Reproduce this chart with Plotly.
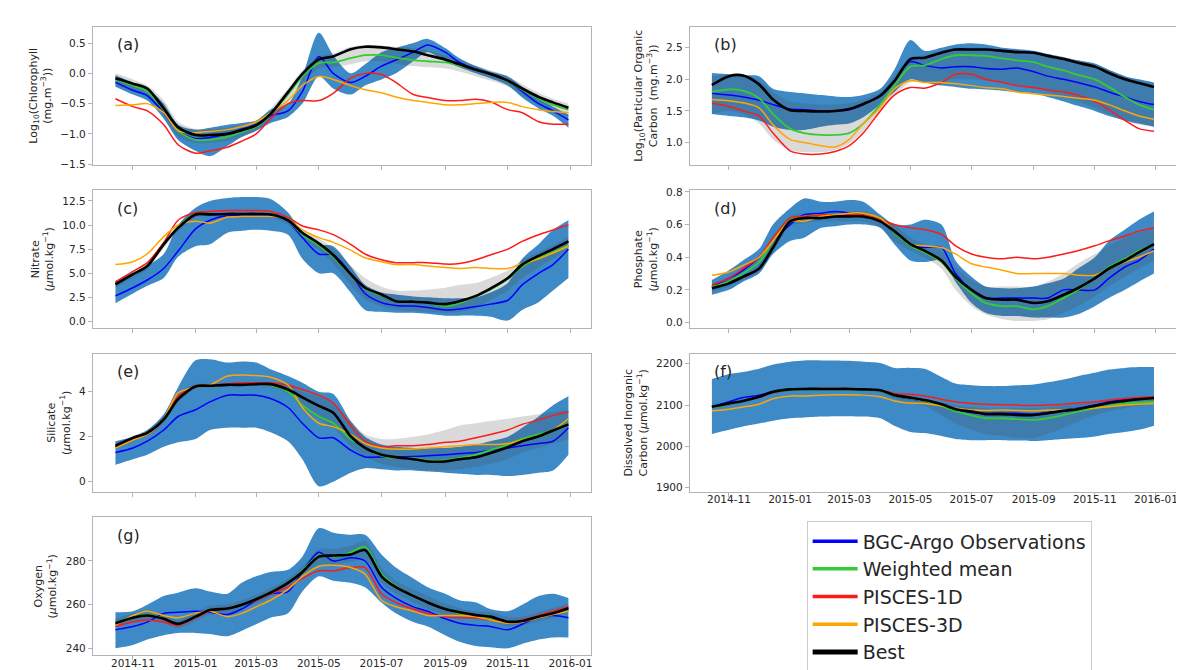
import plotly.graph_objects as go

# ---------------- data ----------------
dates = ["2014-10-15", "2014-11-01", "2014-11-15", "2014-12-01", "2014-12-15",
         "2015-01-01", "2015-01-15", "2015-02-01", "2015-02-15", "2015-03-01",
         "2015-03-15", "2015-04-01", "2015-04-15", "2015-05-01", "2015-05-15",
         "2015-06-01", "2015-06-15", "2015-07-01", "2015-07-15", "2015-08-01",
         "2015-08-15", "2015-09-01", "2015-09-15", "2015-10-01", "2015-10-15",
         "2015-11-01", "2015-11-15", "2015-12-01", "2015-12-15", "2015-12-30"]

tick_dates = ["2014-11-01", "2015-01-01", "2015-03-01", "2015-05-01",
              "2015-07-01", "2015-09-01", "2015-11-01", "2016-01-01"]
tick_labels = ["2014-11", "2015-01", "2015-03", "2015-05",
               "2015-07", "2015-09", "2015-11", "2016-01"]

series_names = ["BGC-Argo Observations", "Weighted mean", "PISCES-1D", "PISCES-3D", "Best"]

# (a) chlorophyll
chl_obs = [-0.15, -0.28, -0.37, -0.65, -0.95, -1.08, -1.06, -1.0, -0.92, -0.85, -0.7, -0.62, -0.3, 0.28, 0.0,
           -0.15, -0.05, 0.12, 0.22, 0.35, 0.47, 0.35, 0.18, 0.07, 0.0, -0.12, -0.3, -0.5, -0.62, -0.77]
chl_wmean = [-0.1, -0.2, -0.3, -0.6, -0.95, -1.1, -1.1, -1.05, -0.97, -0.88, -0.68, -0.35, -0.05, 0.17, 0.18,
             0.25, 0.3, 0.3, 0.26, 0.22, 0.2, 0.18, 0.13, 0.06, -0.01, -0.13, -0.27, -0.42, -0.52, -0.6]
chl_1d = [-0.42, -0.55, -0.62, -0.85, -1.18, -1.32, -1.28, -1.22, -1.12, -1.0, -0.75, -0.5, -0.45, -0.45, -0.33,
          -0.08, 0.0, -0.02, -0.15, -0.35, -0.4, -0.45, -0.45, -0.43, -0.47, -0.6, -0.65, -0.8, -0.84, -0.84]
chl_3d = [-0.53, -0.52, -0.5, -0.65, -0.95, -0.98, -0.96, -0.93, -0.88, -0.8, -0.65, -0.45, -0.2, -0.05, -0.1,
          -0.2, -0.27, -0.32, -0.39, -0.45, -0.48, -0.52, -0.52, -0.5, -0.48, -0.48, -0.55, -0.6, -0.63, -0.65]
chl_best = [-0.08, -0.17, -0.25, -0.58, -0.89, -1.02, -1.02, -1.0, -0.94, -0.86, -0.67, -0.31, -0.01, 0.23, 0.28,
            0.4, 0.44, 0.43, 0.4, 0.36, 0.3, 0.23, 0.15, 0.06, -0.01, -0.12, -0.25, -0.39, -0.48, -0.57]
chl_band_hi = [-0.03, -0.15, -0.25, -0.5, -0.85, -0.93, -0.9, -0.85, -0.82, -0.78, -0.6, -0.5, -0.05, 0.67, 0.3,
               0.0, 0.15, 0.35, 0.42, 0.5, 0.57, 0.42, 0.25, 0.12, 0.03, -0.05, -0.22, -0.42, -0.55, -0.68]
chl_band_lo = [-0.22, -0.35, -0.45, -0.75, -1.1, -1.28, -1.37, -1.2, -1.05, -0.95, -0.82, -0.72, -0.5, -0.05, -0.25,
               -0.35, -0.2, -0.1, 0.0, 0.2, 0.35, 0.2, 0.1, 0.0, -0.08, -0.2, -0.4, -0.58, -0.7, -0.9]
chl_ens_hi = [0.0, -0.1, -0.2, -0.45, -0.8, -0.92, -0.92, -0.9, -0.85, -0.78, -0.58, -0.25, 0.05, 0.28, 0.33,
              0.44, 0.47, 0.46, 0.44, 0.42, 0.38, 0.3, 0.22, 0.12, 0.05, -0.05, -0.18, -0.32, -0.42, -0.5]
chl_ens_lo = [-0.2, -0.3, -0.38, -0.7, -1.05, -1.15, -1.15, -1.12, -1.05, -0.95, -0.78, -0.45, -0.15, 0.08, 0.1,
              0.15, 0.2, 0.2, 0.16, 0.12, 0.1, 0.08, 0.03, -0.05, -0.12, -0.22, -0.36, -0.5, -0.6, -0.72]

# (b) particulate organic carbon
poc_obs = [1.78, 1.75, 1.72, 1.67, 1.6, 1.53, 1.52, 1.5, 1.5, 1.52, 1.6, 1.75, 1.98, 2.28, 2.22,
           2.18, 2.2, 2.2, 2.17, 2.16, 2.18, 2.12, 2.05, 2.0, 1.95, 1.88, 1.8, 1.72, 1.65, 1.6]
poc_wmean = [1.8, 1.84, 1.82, 1.7, 1.45, 1.22, 1.15, 1.12, 1.12, 1.15, 1.3, 1.6, 1.9, 2.2, 2.22,
             2.32, 2.38, 2.38, 2.37, 2.33, 2.3, 2.27, 2.2, 2.14, 2.07, 2.0, 1.88, 1.72, 1.6, 1.52]
poc_1d = [1.62, 1.57, 1.5, 1.42, 1.15, 0.87, 0.82, 0.82, 0.86, 0.95, 1.15, 1.5, 1.75, 1.87, 1.86,
          1.95, 2.08, 2.08, 2.0, 1.95, 1.9, 1.87, 1.83, 1.8, 1.75, 1.65, 1.52, 1.35, 1.22, 1.18]
poc_3d = [1.68, 1.66, 1.63, 1.55, 1.28, 1.05, 1.0, 0.95, 0.93, 1.05, 1.3, 1.55, 1.85, 1.98, 1.95,
          1.95, 1.93, 1.9, 1.87, 1.85, 1.8, 1.77, 1.75, 1.73, 1.7, 1.67, 1.6, 1.5, 1.42, 1.37]
poc_best = [1.91, 2.05, 2.06, 1.92, 1.68, 1.51, 1.5, 1.49, 1.5, 1.53, 1.61, 1.74, 1.97, 2.32, 2.34,
            2.42, 2.47, 2.47, 2.47, 2.45, 2.43, 2.42, 2.37, 2.32, 2.26, 2.2, 2.1, 2.0, 1.94, 1.88]
poc_band_hi = [2.1, 2.08, 2.06, 2.05, 1.85, 1.8, 1.78, 1.75, 1.73, 1.72, 1.75, 1.85, 2.15, 2.62, 2.45,
               2.5, 2.55, 2.57, 2.55, 2.5, 2.48, 2.45, 2.4, 2.35, 2.3, 2.25, 2.15, 2.05, 2.0, 1.95]
poc_band_lo = [1.45, 1.42, 1.4, 1.35, 1.25, 1.2, 1.2, 1.25, 1.28, 1.3, 1.4, 1.6, 1.8, 2.0, 1.95,
               1.9, 1.88, 1.85, 1.84, 1.82, 1.8, 1.78, 1.72, 1.65, 1.58, 1.5, 1.42, 1.35, 1.3, 1.25]
poc_ens_hi = [2.05, 2.08, 2.08, 1.98, 1.8, 1.65, 1.62, 1.6, 1.6, 1.62, 1.68, 1.8, 2.05, 2.35, 2.38,
              2.45, 2.5, 2.5, 2.5, 2.48, 2.46, 2.44, 2.4, 2.35, 2.3, 2.24, 2.15, 2.05, 1.98, 1.92]
poc_ens_lo = [1.45, 1.5, 1.45, 1.3, 1.05, 0.88, 0.85, 0.85, 0.88, 0.98, 1.18, 1.5, 1.75, 1.95, 1.95,
              1.98, 2.0, 2.0, 1.98, 1.95, 1.9, 1.85, 1.8, 1.72, 1.65, 1.55, 1.45, 1.35, 1.28, 1.25]

# (c) nitrate
no3_obs = [2.65, 3.5, 4.3, 5.5, 7.3, 9.6, 10.5, 11.0, 11.0, 11.0, 11.0, 10.4, 8.7, 7.0, 6.9,
           5.0, 2.9, 1.95, 1.65, 1.6, 1.45, 1.2, 1.3, 1.55, 1.8, 2.2, 3.8, 5.0, 5.9, 7.5]
no3_wmean = [3.9, 4.9, 5.8, 8.0, 9.8, 11.1, 11.1, 11.15, 11.15, 11.15, 11.1, 10.5, 9.0, 7.9, 6.7,
             4.8, 3.4, 2.7, 2.1, 2.05, 1.9, 1.6, 1.9, 2.6, 3.3, 4.4, 5.7, 6.6, 7.2, 7.9]
no3_1d = [4.1, 5.2, 6.1, 8.2, 10.5, 11.3, 11.4, 11.5, 11.5, 11.5, 11.4, 10.8, 9.9, 9.5, 9.0,
          8.0, 7.0, 6.4, 6.1, 6.1, 6.1, 5.95, 6.0, 6.4, 6.9, 7.5, 8.3, 9.0, 9.5, 10.0]
no3_3d = [5.9, 6.2, 7.0, 8.8, 10.0, 10.4, 10.2, 10.8, 10.9, 10.9, 10.9, 10.6, 9.5, 8.7, 8.2,
          7.4, 6.6, 6.2, 5.9, 5.9, 5.75, 5.6, 5.5, 5.6, 5.5, 5.5, 6.0, 6.5, 7.1, 7.8]
no3_best = [3.85, 4.9, 5.75, 8.0, 9.7, 11.1, 11.1, 11.15, 11.15, 11.15, 11.1, 10.5, 9.2, 8.1, 6.9,
            4.9, 3.5, 2.8, 2.1, 2.05, 1.95, 1.8, 2.1, 2.65, 3.4, 4.5, 5.9, 6.8, 7.5, 8.3]
no3_band_hi = [4.2, 5.0, 5.8, 7.0, 10.0, 11.8, 12.5, 12.8, 12.9, 12.9, 12.7, 11.3, 9.2, 8.0, 7.8,
               5.7, 3.8, 3.0, 2.8, 2.6, 2.5, 2.4, 2.4, 2.5, 3.0, 4.0, 6.5, 8.0, 9.5, 10.5]
no3_band_lo = [1.9, 2.9, 3.7, 4.5, 6.7, 7.8, 8.0, 9.2, 9.4, 9.5, 9.4, 9.0, 6.5, 5.0, 5.0,
               3.0, 1.2, 1.0, 0.9, 0.9, 0.8, 0.6, 0.6, 0.6, 0.5, 0.1, 1.2, 2.0, 3.2, 4.5]
no3_ens_hi = [4.2, 5.2, 6.1, 8.3, 10.1, 11.3, 11.3, 11.3, 11.3, 11.3, 11.3, 10.8, 9.6, 8.6, 7.6,
              5.8, 4.5, 3.6, 3.2, 3.2, 3.3, 3.5, 3.8, 4.0, 4.5, 5.3, 6.4, 7.2, 7.9, 8.8]
no3_ens_lo = [3.5, 4.5, 5.4, 7.6, 9.3, 10.8, 10.9, 10.9, 10.9, 10.9, 10.8, 10.0, 8.5, 7.4, 6.0,
              3.8, 2.3, 1.6, 1.2, 1.1, 1.0, 0.9, 1.0, 1.4, 2.2, 3.2, 4.5, 5.6, 6.5, 7.4]

# (d) phosphate
po4_obs = [0.22, 0.27, 0.32, 0.4, 0.5, 0.6, 0.66, 0.67, 0.68, 0.67, 0.66, 0.62, 0.55, 0.47, 0.46,
           0.46, 0.3, 0.2, 0.15, 0.15, 0.15, 0.15, 0.15, 0.2, 0.2, 0.2, 0.27, 0.34, 0.38, 0.45]
po4_wmean = [0.22, 0.25, 0.3, 0.37, 0.5, 0.63, 0.65, 0.66, 0.66, 0.66, 0.66, 0.63, 0.55, 0.47, 0.43,
             0.37, 0.27, 0.18, 0.12, 0.1, 0.1, 0.08, 0.1, 0.15, 0.2, 0.27, 0.34, 0.39, 0.44, 0.48]
po4_1d = [0.23, 0.27, 0.33, 0.4, 0.52, 0.64, 0.65, 0.66, 0.66, 0.66, 0.66, 0.63, 0.6, 0.58, 0.57,
          0.54, 0.47, 0.42, 0.4, 0.39, 0.4, 0.39, 0.4, 0.42, 0.44, 0.47, 0.5, 0.53, 0.56, 0.58]
po4_3d = [0.29, 0.31, 0.35, 0.4, 0.5, 0.62, 0.62, 0.65, 0.66, 0.67, 0.67, 0.64, 0.56, 0.48, 0.47,
          0.46, 0.42, 0.36, 0.34, 0.32, 0.3, 0.3, 0.3, 0.3, 0.29, 0.29, 0.33, 0.37, 0.4, 0.44]
po4_best = [0.21, 0.24, 0.28, 0.33, 0.46, 0.62, 0.64, 0.64, 0.65, 0.65, 0.65, 0.62, 0.56, 0.48, 0.44,
            0.38, 0.28, 0.2, 0.15, 0.14, 0.14, 0.12, 0.13, 0.17, 0.21, 0.27, 0.33, 0.38, 0.43, 0.48]
po4_band_hi = [0.26, 0.32, 0.38, 0.45, 0.6, 0.7, 0.76, 0.74, 0.74, 0.75, 0.74, 0.66, 0.6, 0.6, 0.63,
               0.6, 0.38, 0.28, 0.22, 0.21, 0.21, 0.22, 0.24, 0.27, 0.33, 0.4, 0.5, 0.57, 0.63, 0.68]
po4_band_lo = [0.17, 0.2, 0.25, 0.3, 0.42, 0.5, 0.52, 0.58, 0.59, 0.6, 0.6, 0.58, 0.48, 0.38, 0.37,
               0.38, 0.25, 0.12, 0.06, 0.04, 0.04, 0.03, 0.03, 0.03, 0.05, 0.1, 0.15, 0.2, 0.25, 0.3]
po4_ens_hi = [0.24, 0.28, 0.33, 0.4, 0.52, 0.65, 0.67, 0.67, 0.68, 0.68, 0.68, 0.65, 0.6, 0.52, 0.48,
              0.44, 0.34, 0.26, 0.22, 0.22, 0.22, 0.22, 0.25, 0.3, 0.36, 0.42, 0.47, 0.52, 0.55, 0.58]
po4_ens_lo = [0.19, 0.22, 0.26, 0.31, 0.43, 0.59, 0.61, 0.62, 0.62, 0.62, 0.62, 0.58, 0.5, 0.44, 0.4,
              0.33, 0.2, 0.1, 0.05, 0.02, 0.01, 0.01, 0.02, 0.06, 0.1, 0.16, 0.22, 0.28, 0.33, 0.38]

# (e) silicate
sil_obs = [1.3, 1.5, 1.8, 2.3, 2.9, 3.2, 3.55, 3.85, 3.85, 3.85, 3.7, 3.3, 2.6, 1.95, 1.95,
           1.4, 1.1, 1.1, 1.1, 1.12, 1.15, 1.2, 1.25, 1.3, 1.4, 1.5, 1.6, 1.7, 1.8, 2.4]
sil_wmean = [1.55, 1.95, 2.17, 2.77, 3.67, 4.24, 4.27, 4.31, 4.31, 4.34, 4.3, 4.0, 3.4, 2.9, 2.6,
             1.9, 1.5, 1.15, 1.05, 1.05, 0.95, 0.95, 1.05, 1.2, 1.4, 1.65, 1.9, 2.1, 2.3, 2.6]
sil_1d = [1.55, 1.9, 2.1, 2.75, 3.8, 4.25, 4.3, 4.35, 4.4, 4.4, 4.4, 4.3, 4.1, 3.85, 3.5,
          2.5, 1.8, 1.55, 1.6, 1.6, 1.65, 1.75, 1.8, 1.95, 2.1, 2.3, 2.55, 2.75, 2.95, 3.1]
sil_3d = [1.5, 1.85, 2.1, 2.8, 3.95, 4.2, 4.3, 4.7, 4.75, 4.72, 4.65, 4.3, 3.3, 2.6, 2.45,
          2.1, 1.7, 1.5, 1.45, 1.45, 1.5, 1.55, 1.6, 1.65, 1.65, 1.7, 1.85, 2.05, 2.3, 2.8]
sil_best = [1.6, 1.95, 2.17, 2.77, 3.67, 4.24, 4.27, 4.31, 4.31, 4.34, 4.34, 4.1, 3.75, 3.37, 3.07,
            2.02, 1.5, 1.2, 1.09, 1.0, 0.9, 0.9, 1.0, 1.09, 1.27, 1.53, 1.8, 2.02, 2.28, 2.55]
sil_band_hi = [1.8, 2.0, 2.3, 3.0, 4.2, 5.4, 5.45, 5.3, 5.35, 5.3, 5.0, 4.7, 4.4, 4.0, 3.9,
               2.7, 2.0, 1.65, 1.55, 1.5, 1.5, 1.5, 1.55, 1.65, 1.8, 2.0, 2.4, 2.9, 3.4, 3.8]
sil_band_lo = [0.75, 1.0, 1.2, 1.55, 1.75, 1.9, 2.3, 2.4, 2.4, 2.4, 2.2, 1.8, 1.0, -0.2, 0.0,
               0.4, 0.6, 0.55, 0.5, 0.5, 0.45, 0.4, 0.35, 0.3, 0.3, 0.25, 0.3, 0.4, 0.5, 1.2]
sil_ens_hi = [1.7, 2.05, 2.3, 2.9, 3.9, 4.35, 4.35, 4.4, 4.4, 4.4, 4.4, 4.3, 4.0, 3.8, 3.5,
              2.7, 2.1, 1.9, 1.9, 2.0, 2.1, 2.3, 2.5, 2.6, 2.7, 2.8, 2.9, 3.0, 3.1, 3.2]
sil_ens_lo = [1.45, 1.8, 2.05, 2.6, 3.5, 4.15, 4.2, 4.25, 4.25, 4.25, 4.2, 3.9, 3.3, 2.8, 2.4,
              1.6, 1.1, 0.8, 0.65, 0.55, 0.5, 0.5, 0.55, 0.65, 0.8, 1.0, 1.3, 1.5, 1.7, 1.9]

# (f) dissolved inorganic carbon
dic_obs = [2095, 2108, 2118, 2124, 2132, 2138, 2138, 2138, 2138, 2138, 2138, 2135, 2122, 2115, 2110,
           2100, 2090, 2082, 2080, 2080, 2080, 2078, 2082, 2088, 2092, 2100, 2108, 2114, 2116, 2118]
dic_wmean = [2094, 2102, 2110, 2120, 2131, 2137, 2138, 2138, 2138, 2138, 2137, 2135, 2122, 2116, 2110,
             2098, 2085, 2075, 2068, 2068, 2066, 2064, 2068, 2076, 2084, 2092, 2098, 2104, 2106, 2108]
dic_1d = [2095, 2103, 2110, 2118, 2130, 2138, 2139, 2140, 2140, 2140, 2139, 2136, 2128, 2126, 2122,
          2114, 2108, 2104, 2102, 2101, 2100, 2099, 2100, 2102, 2105, 2108, 2112, 2116, 2118, 2120]
dic_3d = [2086, 2090, 2095, 2102, 2115, 2122, 2122, 2124, 2125, 2125, 2124, 2120, 2110, 2105, 2104,
          2098, 2092, 2088, 2087, 2088, 2087, 2086, 2088, 2088, 2090, 2093, 2096, 2100, 2102, 2104]
dic_best = [2096, 2104, 2110, 2120, 2132, 2138, 2139, 2139, 2139, 2139, 2138, 2136, 2124, 2118, 2112,
            2102, 2090, 2084, 2078, 2078, 2076, 2076, 2080, 2086, 2090, 2098, 2105, 2110, 2114, 2117]
dic_band_hi = [2163, 2175, 2180, 2188, 2198, 2205, 2208, 2208, 2208, 2207, 2205, 2202, 2190, 2190, 2188,
               2168, 2152, 2148, 2146, 2146, 2148, 2150, 2155, 2162, 2170, 2178, 2186, 2190, 2192, 2192]
dic_band_lo = [2030, 2040, 2048, 2055, 2062, 2068, 2070, 2072, 2073, 2073, 2072, 2068, 2050, 2035, 2032,
               2025, 2018, 2015, 2015, 2015, 2014, 2013, 2015, 2018, 2020, 2024, 2030, 2035, 2040, 2050]
dic_ens_hi = [2098, 2106, 2114, 2124, 2134, 2140, 2141, 2141, 2141, 2141, 2140, 2138, 2128, 2122, 2116,
              2108, 2100, 2095, 2092, 2092, 2092, 2092, 2094, 2098, 2102, 2106, 2110, 2114, 2117, 2120]
dic_ens_lo = [2090, 2098, 2106, 2116, 2126, 2134, 2135, 2135, 2135, 2135, 2134, 2130, 2115, 2105, 2098,
              2075, 2055, 2040, 2030, 2025, 2020, 2020, 2030, 2045, 2060, 2075, 2085, 2092, 2098, 2102]

# (g) oxygen
oxy_obs = [248.5, 250, 252, 256, 256.5, 257, 256.5, 255.5, 258, 262, 265, 266, 275, 284, 280,
           281.5, 280, 268, 263, 259, 257, 253.5, 251.5, 250.5, 250, 248.5, 251, 254.5, 255, 254]
oxy_wmean = [251, 254, 255.5, 253.5, 251, 254.5, 257.5, 258.2, 260, 262.5, 265.5, 270, 275.5, 282.5, 282,
             284, 286.5, 274, 268.5, 264, 261, 258, 256, 254.5, 254, 252, 252.5, 254.5, 256.5, 258.5]
oxy_1d = [250, 252, 253, 252, 250.5, 254, 257, 258, 260, 262, 265, 268, 272, 275.5, 275.5,
          277, 277, 265, 261, 258, 256, 254.5, 254, 254, 253, 252, 253, 255, 257, 259]
oxy_3d = [250.5, 255, 257, 255, 254, 256, 257, 254.5, 256, 259, 262, 267, 273, 277.5, 278,
          277, 274, 262, 259, 257, 255, 255, 255, 254.5, 253, 251.5, 252, 254, 255.5, 257]
oxy_best = [251.5, 254, 255, 253.5, 251.2, 254.5, 257.5, 258.2, 260, 262.5, 265.5, 270, 275, 282, 282.5,
            283, 285, 273, 268, 264, 261, 258, 256.5, 255.2, 254.5, 252.2, 252.5, 254.5, 256, 258.3]
oxy_band_hi = [256.5, 257, 260, 264, 265.5, 267.5, 266, 265, 270, 273, 275, 276, 282, 295, 293,
               292, 292, 283, 277, 272, 268, 265, 262, 261, 258, 257, 260, 264, 265, 263]
oxy_band_lo = [240, 241.5, 244, 246, 247, 247, 246.5, 245.5, 248, 251, 254, 256, 266, 273, 271,
               270, 268, 261, 256, 252, 250, 246, 243, 241, 240.5, 240, 242, 244, 245, 245]
oxy_ens_hi = [253.5, 256, 257, 255.5, 253, 256.5, 259.5, 260.2, 262, 264.5, 267.5, 272, 277.5, 285.5, 285.5,
              287, 289, 277, 271, 267, 264, 260.5, 258.5, 257, 256.5, 254.5, 254.5, 256.5, 258.5, 260.5]
oxy_ens_lo = [249.5, 252, 253, 251.5, 249.2, 252.5, 255.5, 256.2, 258, 260.5, 263.5, 268, 272.5, 278.5, 278.5,
              279.5, 280.5, 270, 265, 261, 258, 255.5, 254, 253, 252.5, 250, 250.5, 252.5, 254, 256]

# ---------------- styling ----------------
FONT = "DejaVu Sans"
TXT = "#262626"
SPINE = "#b3b3b3"
BAND = "rgb(62,138,198)"
ENS = "rgba(70,70,70,0.2)"
LINE_COLORS = ["#0000ff", "#33cc33", "#ff1a1a", "#ffa500", "#000000"]
LINE_WIDTHS = [1.5, 1.8, 1.5, 1.5, 2.6]

W, H = 1184, 670
COLS = {"L": (85, 584), "R": (683, 1170)}
ROWS = [(14, 154), (180, 320), (346, 486), (512, 652)]

panels = [
    dict(tag="(a)", col="L", row=0, lines=[chl_obs, chl_wmean, chl_1d, chl_3d, chl_best],
         band=(chl_band_lo, chl_band_hi), ens=(chl_ens_lo, chl_ens_hi), yr=[-1.51, 0.77],
         ticks=[-1.5, -1.0, -0.5, 0.0, 0.5], tickfmt=".1f", xlab=False,
         title="Log<sub>10</sub>(Chlorophyll<br>(mg.m<sup>−3</sup>))"),
    dict(tag="(b)", col="R", row=0, lines=[poc_obs, poc_wmean, poc_1d, poc_3d, poc_best],
         band=(poc_band_lo, poc_band_hi), ens=(poc_ens_lo, poc_ens_hi), yr=[0.65, 2.83],
         ticks=[1.0, 1.5, 2.0, 2.5], tickfmt=".1f", xlab=False,
         title="Log<sub>10</sub>(Particular Organic<br>Carbon  (mg.m<sup>−3</sup>))"),
    dict(tag="(c)", col="L", row=1, lines=[no3_obs, no3_wmean, no3_1d, no3_3d, no3_best],
         band=(no3_band_lo, no3_band_hi), ens=(no3_ens_lo, no3_ens_hi), yr=[-0.7, 13.6],
         ticks=[0.0, 2.5, 5.0, 7.5, 10.0, 12.5], tickfmt=".1f", xlab=False,
         title="Nitrate<br>(<i>μ</i>mol.kg<sup>−1</sup>)"),
    dict(tag="(d)", col="R", row=1, lines=[po4_obs, po4_wmean, po4_1d, po4_3d, po4_best],
         band=(po4_band_lo, po4_band_hi), ens=(po4_ens_lo, po4_ens_hi), yr=[-0.035, 0.81],
         ticks=[0.0, 0.2, 0.4, 0.6, 0.8], tickfmt=".1f", xlab=False,
         title="Phosphate<br>(<i>μ</i>mol.kg<sup>−1</sup>)"),
    dict(tag="(e)", col="L", row=2, lines=[sil_obs, sil_wmean, sil_1d, sil_3d, sil_best],
         band=(sil_band_lo, sil_band_hi), ens=(sil_ens_lo, sil_ens_hi), yr=[-0.45, 5.69],
         ticks=[0, 2, 4], tickfmt="d", xlab=False,
         title="Silicate<br>(<i>μ</i>mol.kg<sup>−1</sup>)"),
    dict(tag="(f)", col="R", row=2, lines=[dic_obs, dic_wmean, dic_1d, dic_3d, dic_best],
         band=(dic_band_lo, dic_band_hi), ens=(dic_ens_lo, dic_ens_hi), yr=[1890, 2224],
         ticks=[1900, 2000, 2100, 2200], tickfmt="d", xlab=True,
         title="Dissolved Inorganic<br>Carbon (<i>μ</i>mol.kg<sup>−1</sup>)"),
    dict(tag="(g)", col="L", row=3, lines=[oxy_obs, oxy_wmean, oxy_1d, oxy_3d, oxy_best],
         band=(oxy_band_lo, oxy_band_hi), ens=(oxy_ens_lo, oxy_ens_hi), yr=[236.8, 300],
         ticks=[240, 260, 280], tickfmt="d", xlab=True,
         title="Oxygen<br>(<i>μ</i>mol.kg<sup>−1</sup>)"),
]

fig = go.Figure()
layout = dict(
    width=W, height=H, margin=dict(l=0, r=0, t=0, b=0),
    paper_bgcolor="white", plot_bgcolor="white",
    font=dict(family=FONT, color=TXT, size=11),
    showlegend=True,
    legend=dict(x=800 / W, y=1 - 516 / H, xanchor="left", yanchor="top",
                bgcolor="white", bordercolor="#cccccc", borderwidth=1,
                font=dict(family=FONT, size=19, color=TXT),
                traceorder="normal", tracegroupgap=0, itemwidth=45),
)
annotations = []

for i, p in enumerate(panels):
    n = i + 1
    xa = "x" if n == 1 else f"x{n}"
    ya = "y" if n == 1 else f"y{n}"
    x0, x1 = COLS[p["col"]]
    t, b = ROWS[p["row"]]
    layout[f"xaxis{'' if n == 1 else n}"] = dict(
        domain=[x0 / W, x1 / W], anchor=ya, type="date",
        range=["2014-09-23", "2016-01-21"],
        tickmode="array", tickvals=tick_dates, ticktext=tick_labels,
        showticklabels=p["xlab"], ticks="outside", ticklen=4, tickcolor=SPINE,
        ticklabelstandoff=-6,
        showline=True, linecolor=SPINE, linewidth=1, mirror=True,
        showgrid=False, zeroline=False,
        tickfont=dict(family=FONT, size=10.5, color=TXT),
    )
    layout[f"yaxis{'' if n == 1 else n}"] = dict(
        domain=[1 - b / H, 1 - t / H], anchor=xa, range=p["yr"],
        tickmode="array", tickvals=p["ticks"], tickformat=p["tickfmt"],
        ticks="outside", ticklen=4, tickcolor=SPINE,
        showline=True, linecolor=SPINE, linewidth=1, mirror=True,
        showgrid=False, zeroline=False,
        tickfont=dict(family=FONT, size=10.5, color=TXT),
        title=dict(text=p["title"], font=dict(family=FONT, size=11, color=TXT), standoff=6),
    )
    lo, hi = p["band"]
    fig.add_trace(go.Scatter(x=dates, y=lo, xaxis=xa, yaxis=ya, mode="lines",
                             line=dict(width=0, shape="spline", smoothing=0.8),
                             showlegend=False, hoverinfo="skip"))
    fig.add_trace(go.Scatter(x=dates, y=hi, xaxis=xa, yaxis=ya, mode="lines",
                             line=dict(width=0, shape="spline", smoothing=0.8),
                             fill="tonexty", fillcolor=BAND,
                             showlegend=False, hoverinfo="skip"))
    elo, ehi = p["ens"]
    fig.add_trace(go.Scatter(x=dates, y=elo, xaxis=xa, yaxis=ya, mode="lines",
                             line=dict(width=0, shape="spline", smoothing=0.8),
                             showlegend=False, hoverinfo="skip"))
    fig.add_trace(go.Scatter(x=dates, y=ehi, xaxis=xa, yaxis=ya, mode="lines",
                             line=dict(width=0, shape="spline", smoothing=0.8),
                             fill="tonexty", fillcolor=ENS,
                             showlegend=False, hoverinfo="skip"))
    for k, vals in enumerate(p["lines"]):
        fig.add_trace(go.Scatter(x=dates, y=vals, xaxis=xa, yaxis=ya, mode="lines",
                                 name=series_names[k],
                                 line=dict(color=LINE_COLORS[k], width=LINE_WIDTHS[k],
                                           shape="spline", smoothing=0.8),
                                 showlegend=False))
    annotations.append(dict(text=p["tag"], xref=f"{xa} domain", yref=f"{ya} domain",
                            x=0.045, y=0.87, xanchor="left", yanchor="middle",
                            showarrow=False, font=dict(family=FONT, size=16, color=TXT)))

# legend entries (thicker sample lines, like the reference legend)
for k, nm in enumerate(series_names):
    fig.add_trace(go.Scatter(x=[None], y=[None], mode="lines", name=nm,
                             line=dict(color=LINE_COLORS[k], width=3.5 if k < 4 else 5),
                             showlegend=True))

layout["annotations"] = annotations
fig.update_layout(**layout)
fig.write_html("out.html")
